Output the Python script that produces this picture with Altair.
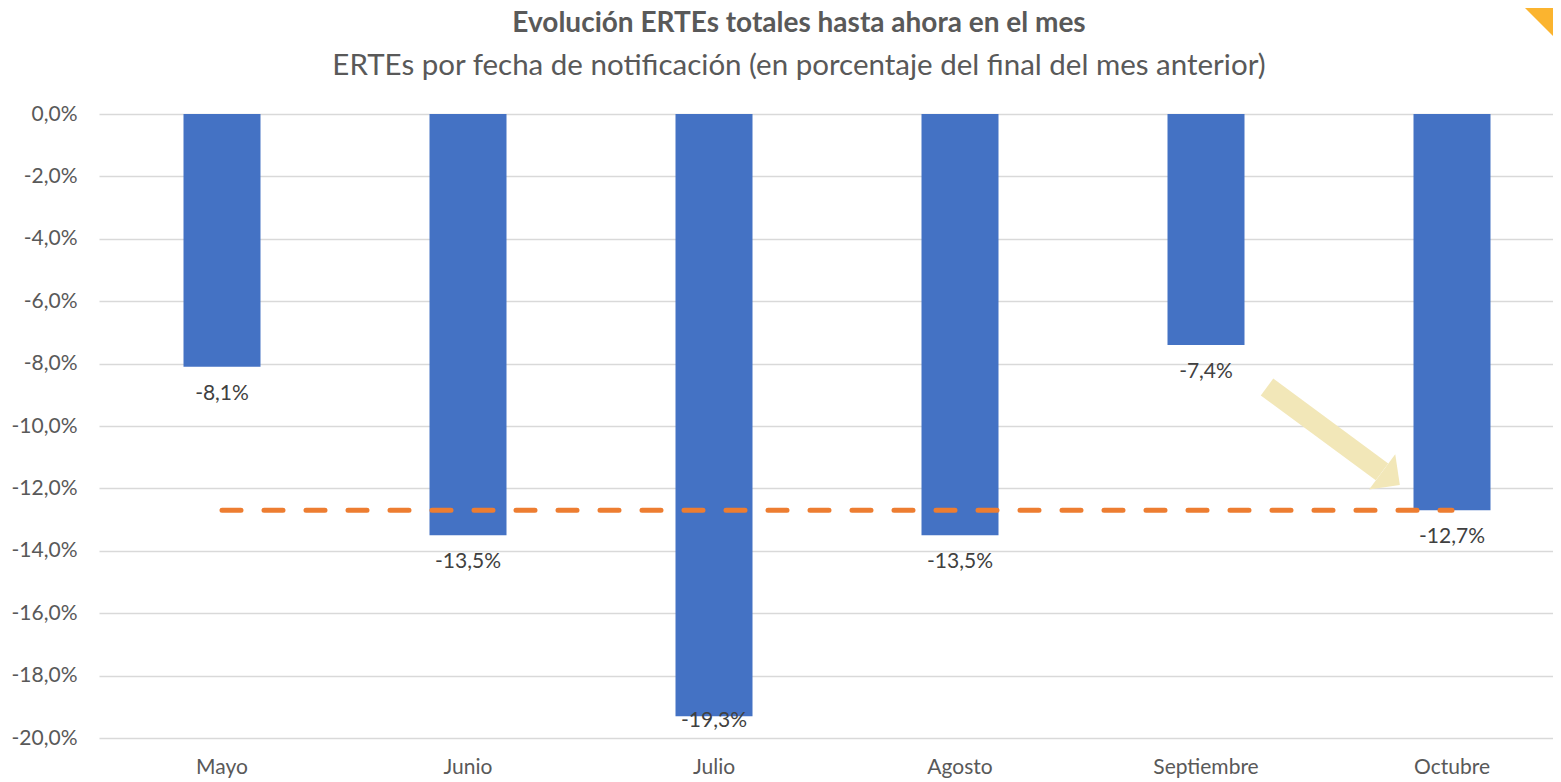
import altair as alt
import pandas as pd

# ---- data ----
meses = ["Mayo", "Junio", "Julio", "Agosto", "Septiembre", "Octubre"]
valores = [-8.1, -13.5, -19.3, -13.5, -7.4, -12.7]
referencia = -12.7
ref_meses = ["Mayo", "Octubre"]
y_ticks = [0, -2, -4, -6, -8, -10, -12, -14, -16, -18, -20]

titulo = "Evolución ERTEs totales hasta ahora en el mes"
subtitulo = "ERTEs por fecha de notificación (en porcentaje del final del mes anterior)"

# arrow annotation (from near Septiembre to the Octubre bar)
flecha_desde = ["Septiembre"]
flecha_hasta = ["Octubre"]
flecha_y1 = [-8.75]
flecha_y2 = [-11.47]
punta_y = [-11.68]

FONT = "Lato"
GRAY = "#595959"

df = pd.DataFrame({"mes": meses, "valor": valores})
df_ref = pd.DataFrame({"mes": ref_meses, "valor": [referencia] * len(ref_meses)})
df_arrow = pd.DataFrame({"desde": flecha_desde, "hasta": flecha_hasta,
                         "y1": flecha_y1, "y2": flecha_y2, "yp": punta_y})
df_title = pd.DataFrame({"t": [titulo], "s": [subtitulo]})

fmt = "replace(replace(format({v}, '.1f'), '.', ','), '\u2212', '-') + '%'"

x_enc = alt.X("mes:N", sort=meses, title=None,
              scale=alt.Scale(domain=meses, range=[0, 1476], paddingInner=0.687, paddingOuter=0.3435),
              axis=alt.Axis(labelFont=FONT, labelFontSize=21, labelColor=GRAY, labelAngle=0,
                            ticks=False, domain=False, labelPadding=18, labelBaseline="top"))
y_scale = alt.Scale(domain=[-20, 0], nice=False, zero=False)
y_enc = alt.Y("valor:Q", scale=y_scale, title=None,
              axis=alt.Axis(values=y_ticks, labelFont=FONT, labelFontSize=21, labelColor=GRAY,
                            ticks=False, domain=False, labelPadding=22,
                            gridColor="#D9D9D9", gridWidth=1.5,
                            labelExpr=fmt.format(v="datum.value")))

base = alt.Chart(df)

bars = base.mark_bar(color="#4472C4", size=77).encode(x=x_enc, y=y_enc, y2=alt.datum(0))

labels = base.transform_calculate(
    txt=fmt.format(v="datum.valor"),
    pos="max(datum.valor - 0.87, -19.45)"
).mark_text(font=FONT, fontSize=21, color="#404040", baseline="middle").encode(
    x=alt.X("mes:N", sort=meses),
    y=alt.Y("pos:Q", scale=y_scale),
    text="txt:N",
)

ref_line = alt.Chart(df_ref).mark_line(
    color="#ED7D31", strokeWidth=5, strokeDash=[19, 23], strokeCap="round"
).encode(x=alt.X("mes:N", sort=meses), y=alt.Y("valor:Q", scale=y_scale))

arrow_shaft = alt.Chart(df_arrow).mark_rule(
    color="#F2E7B8", strokeWidth=21, xOffset=61, x2Offset=-70
).encode(x=alt.X("desde:N"), x2="hasta:N",
         y=alt.Y("y1:Q", scale=y_scale), y2="y2:Q")

arrow_head = alt.Chart(df_arrow).mark_point(
    shape="M-1,0.5L1,0.5L0,-0.5Z", size=1936, angle=126.5, filled=True,
    fill="#F2E7B8", strokeWidth=0, opacity=1, xOffset=-61
).encode(x=alt.X("hasta:N"), y=alt.Y("yp:Q", scale=y_scale))

corner = alt.Chart(df_arrow).mark_point(
    shape="M-1,-1L1,-1L1,1Z", size=7744, filled=True, fill="#FBB42F",
    strokeWidth=0, opacity=1
).encode(x=alt.value(1440), y=alt.value(-92))

title_txt = alt.Chart(df_title).mark_text(
    font=FONT, fontSize=28, fontWeight="bold", color=GRAY, align="center", baseline="alphabetic"
).encode(x=alt.value(700), y=alt.value(-82), text="t:N")

subtitle_txt = alt.Chart(df_title).mark_text(
    font=FONT, fontSize=29.5, color=GRAY, align="center", baseline="alphabetic"
).encode(x=alt.value(700), y=alt.value(-39), text="s:N")

chart = alt.layer(bars, ref_line, arrow_shaft, arrow_head, labels, corner,
                  title_txt, subtitle_txt).properties(
    width=1454, height=624,
    autosize=alt.AutoSizeParams(type="none"),
    padding={"left": 91, "top": 106, "right": 0, "bottom": 46},
).configure_view(stroke=None)

chart.save("out.html", embed_options={"renderer": "svg", "actions": False})
